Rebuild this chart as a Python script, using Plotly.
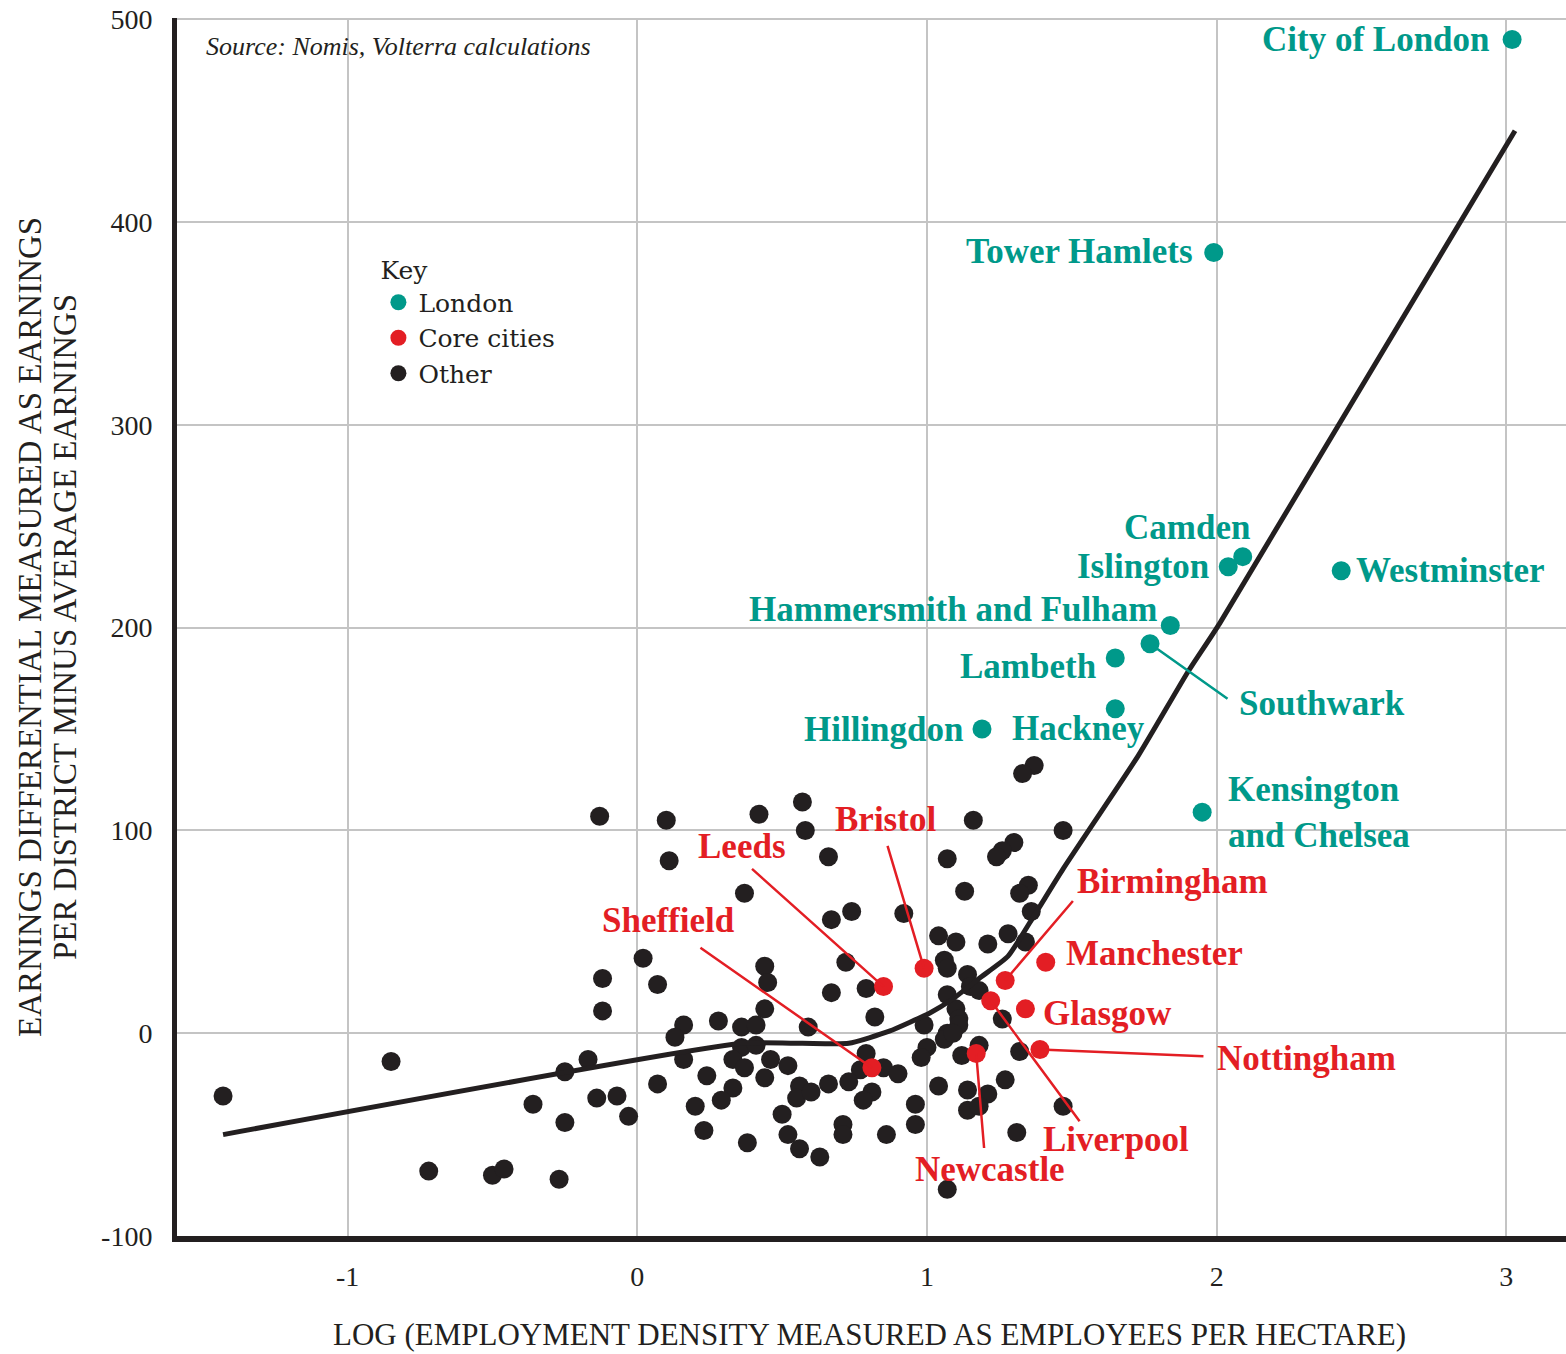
import plotly.graph_objects as go

# ---------------- data ----------------
other_x = [-1.43, -0.85, -0.72, -0.50, -0.46, -0.27, -0.36, -0.25, -0.25, -0.17,
           -0.14, -0.07, -0.03, -0.13, -0.12, -0.12, 0.02, 0.07, 0.10, 0.11,
           0.42, 0.57, 0.58, 0.37, 0.44, 0.45, 0.44, 0.16, 0.13, 0.28,
           0.36, 0.41, 0.36, 0.41, 0.33, 0.37, 0.16, 0.46, 0.52, 0.56,
           0.55, 0.24, 0.07, 0.33, 0.29, 0.44, 0.20, 0.50, 0.23, 0.38,
           0.52, 0.56, 0.63,
           1.37, 1.33, 1.16, 1.47, 0.66, 1.30, 1.26, 1.24, 1.07, 1.13,
           1.35, 1.32, 0.74, 0.67, 0.92, 1.36, 1.28, 1.04, 1.10, 1.21,
           1.34, 0.72, 1.06, 1.07, 0.79, 0.67, 1.14, 1.15, 1.18, 1.07,
           0.82, 1.10, 1.11, 1.07, 1.11, 0.99, 1.26, 1.06, 1.09, 0.59,
           1.00, 0.98, 1.18, 1.12, 1.32, 0.79, 0.85, 0.90, 0.77, 0.60,
           0.66, 0.73, 0.81, 0.78, 1.04, 1.14, 1.21, 1.27, 0.96, 1.14,
           1.18, 0.96, 0.71, 0.71, 0.86, 1.31, 1.47, 1.07]
other_y = [-31, -14, -68, -70, -67, -72, -35, -44, -19, -13,
           -32, -31, -41, 107, 27, 11, 37, 24, 105, 85,
           108, 114, 100, 69, 33, 25, 12, 4, -2, 6,
           3, 4, -7, -6, -13, -17, -13, -13, -16, -26,
           -32, -21, -25, -27, -33, -22, -36, -40, -48, -54,
           -50, -57, -61,
           132, 128, 105, 100, 87, 94, 90, 87, 86, 70,
           73, 69, 60, 56, 59, 60, 49, 48, 45, 44,
           45, 35, 36, 32, 22, 20, 29, 23, 21, 19,
           8, 12, 7, 0, 4, 4, 7, -3, 0, 3,
           -7, -12, -6, -11, -9, -10, -17, -20, -18, -29,
           -25, -24, -29, -33, -26, -28, -30, -23, -35, -38,
           -36, -45, -45, -50, -50, -49, -36, -77]

core_names = ["Leeds", "Bristol", "Sheffield", "Birmingham", "Manchester",
              "Glasgow", "Liverpool", "Newcastle", "Nottingham"]
core_x = [0.85, 0.99, 0.81, 1.27, 1.41, 1.34, 1.22, 1.17, 1.39]
core_y = [23, 32, -17, 26, 35, 12, 16, -10, -8]

london_names = ["City of London", "Tower Hamlets", "Camden", "Islington",
                "Westminster", "Hammersmith and Fulham", "Southwark", "Lambeth",
                "Hackney", "Hillingdon", "Kensington<br>and Chelsea"]
london_x = [3.02, 1.99, 2.09, 2.04, 2.43, 1.84, 1.77, 1.65, 1.65, 1.19, 1.95]
london_y = [490, 385, 235, 230, 228, 201, 192, 185, 160, 150, 109]

fit_x = [-1.43, 0.36, 0.57, 0.73, 0.87, 1.01, 1.09, 1.18, 1.28, 1.37, 1.47, 1.73, 1.90, 2.01, 3.03]
fit_y = [-50, -5, -5, -5, 1, 10, 17, 27, 38, 58, 81, 137, 178, 202, 445]

x_ticks = [-1, 0, 1, 2, 3]
x_tick_text = ["-1", "0", "1", "2", "3"]
y_ticks = [-100, 0, 100, 200, 300, 400, 500]
y_tick_text = ["-100", "0", "100", "200", "300", "400", "500"]

x_title = "LOG (EMPLOYMENT DENSITY MEASURED AS EMPLOYEES PER HECTARE)"
y_title_lines = ["EARNINGS DIFFERENTIAL MEASURED AS EARNINGS",
                 "PER DISTRICT MINUS AVERAGE EARNINGS"]

# ---------------- styles ----------------
TEAL = "#00998A"
RED = "#E31E24"
BLACK = "#231F20"
GRID = "#C4C4C4"
SERIF = "Liberation Serif"
LEG_FONT = "DejaVu Serif"

# label placement (anchor, xshift px, yshift px), leader line tail offsets (px)
core_label_pos = {
    "Leeds": ("center", -142, 140), "Bristol": ("center", -39, 149),
    "Sheffield": ("center", -203, 147), "Birmingham": ("left", 70, 99),
    "Manchester": ("left", 18, 9), "Glasgow": ("left", 16, -5),
    "Liverpool": ("left", 50, -139), "Newcastle": ("center", 14, -116),
    "Nottingham": ("left", 175, -9),
}
core_leader = {
    "Leeds": (-133, -119), "Bristol": (-37, -124), "Sheffield": (-173, -121),
    "Birmingham": (69, -81), "Nottingham": (165, 7), "Liverpool": (90, 122),
    "Newcastle": (8, 96),
}
london_label_pos = {
    "City of London": ("right", -20, 0), "Tower Hamlets": ("right", -19, 1),
    "Camden": ("center", -56, 29), "Islington": ("right", -17, 0),
    "Westminster": ("left", 13, 0), "Hammersmith and Fulham": ("right", -11, 16),
    "Southwark": ("left", 87, -60), "Lambeth": ("right", -17, -8),
    "Hackney": ("right", 32, -20), "Hillingdon": ("right", -16, 0),
    "Kensington<br>and Chelsea": ("left", 24, 0),
}
london_leader = {"Southwark": (79, 56)}

fig = go.Figure()

fig.add_trace(go.Scatter(x=other_x, y=other_y, mode="markers", name="Other",
                         marker=dict(size=19, color=BLACK), legendrank=3))
fig.add_trace(go.Scatter(x=fit_x, y=fit_y, mode="lines", showlegend=False,
                         line=dict(color=BLACK, width=5, shape="spline", smoothing=0.5)))
fig.add_trace(go.Scatter(x=core_x, y=core_y, mode="markers", name="Core cities",
                         text=core_names, marker=dict(size=19, color=RED), legendrank=2))
fig.add_trace(go.Scatter(x=london_x, y=london_y, mode="markers", name="London",
                         text=london_names, marker=dict(size=19, color=TEAL), legendrank=1))

annotations = []
for names, xs, ys, pos, leaders, col in [
        (core_names, core_x, core_y, core_label_pos, core_leader, RED),
        (london_names, london_x, london_y, london_label_pos, london_leader, TEAL)]:
    for n, x, y in zip(names, xs, ys):
        if n in leaders:
            ax, ay = leaders[n]
            annotations.append(dict(x=x, y=y, xref="x", yref="y", text="",
                                    showarrow=True, arrowhead=0, arrowwidth=2.5,
                                    arrowcolor=col, ax=ax, ay=ay, standoff=0))
        anchor, dx, dy = pos[n]
        annotations.append(dict(x=x, y=y, xref="x", yref="y", text="<b>" + n + "</b>",
                                showarrow=False, xanchor=anchor, yanchor="middle",
                                xshift=dx, yshift=dy, align="left",
                                font=dict(family=SERIF, size=35, color=col)))

annotations.append(dict(x=0.0194, y=0.977, xref="paper", yref="paper",
                        text="<i>Source: Nomis, Volterra calculations</i>",
                        showarrow=False, xanchor="left", yanchor="middle",
                        font=dict(family=SERIF, size=26, color=BLACK)))

# y-axis title: two rotated lines
for line, shift in zip(y_title_lines, [-147, -112]):
    annotations.append(dict(x=0, y=0.5, xref="paper", yref="paper", text=line,
                            textangle=-90, showarrow=False, xanchor="center",
                            yanchor="middle", xshift=shift,
                            font=dict(family=SERIF, size=33, color=BLACK)))
# x-axis title
annotations.append(dict(x=0.5, y=0, xref="paper", yref="paper", text=x_title,
                        showarrow=False, xanchor="center", yanchor="middle",
                        xshift=-2, yshift=-98,
                        font=dict(family=SERIF, size=31, color=BLACK)))

fig.update_layout(
    width=1566, height=1354,
    margin=dict(l=177, r=0, t=18, b=118, autoexpand=False),
    plot_bgcolor="white", paper_bgcolor="white",
    font=dict(family=SERIF, color=BLACK),
    annotations=annotations,
    legend=dict(x=0.145, y=0.812, xanchor="left", yanchor="top",
                title=dict(text="Key", font=dict(family=LEG_FONT, size=25, color=BLACK)),
                font=dict(family=LEG_FONT, size=25, color=BLACK),
                bgcolor="rgba(0,0,0,0)", tracegroupgap=0, itemclick=False),
    xaxis=dict(range=[-1.589, 3.206], tickvals=x_ticks, ticktext=x_tick_text,
               showgrid=True, gridcolor=GRID, automargin=False,
               gridwidth=1.5, zeroline=False, showline=True, linecolor=BLACK, linewidth=6,
               ticks="", tickfont=dict(family=SERIF, size=28, color=BLACK),
               ticklabelstandoff=10, ticklabeloverflow="allow"),
    yaxis=dict(range=[-100, 500.6], tickvals=y_ticks, ticktext=y_tick_text,
               showgrid=True, gridcolor=GRID, automargin=False,
               gridwidth=1.5, zeroline=False, showline=True, linecolor=BLACK, linewidth=5,
               ticks="", tickfont=dict(family=SERIF, size=28, color=BLACK),
               ticklabelstandoff=14, ticklabeloverflow="allow"),
)

# remove the default page margin so the figure fills the window exactly
fig.write_html("out.html", config={"displayModeBar": False},
               post_script="document.body.style.margin='0px';")
